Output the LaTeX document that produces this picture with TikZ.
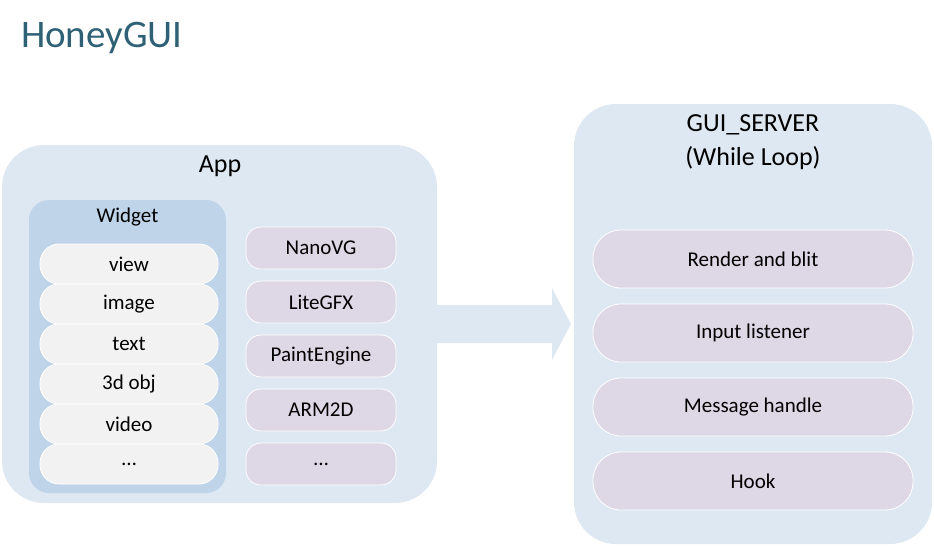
\documentclass[tikz,border=0pt]{standalone}
\usepackage{fontspec}
\setmainfont{Carlito}
\usetikzlibrary{positioning,calc}
\definecolor{titleblue}{HTML}{2F6176}
\definecolor{panelblue}{HTML}{DEE8F2}
\definecolor{widgetblue}{HTML}{BFD4E8}
\definecolor{itemgray}{HTML}{F2F2F2}
\definecolor{itempurple}{HTML}{DED7E6}

\begin{document}
\begin{tikzpicture}[x=1pt,y=1pt]
    \tikzstyle{every node}=[inner sep=0,outer sep=0,draw=none]
    \tikzstyle{panel}=[fill=panelblue,rounded corners=42]
    \tikzstyle{group}=[fill=widgetblue,rounded corners=20]
    \tikzstyle{label}=[font=\fontsize{26}{30}\selectfont]
    \tikzstyle{small}=[font=\fontsize{21}{25}\selectfont]
    \tikzstyle{widget}=[small,fill=itemgray,draw=white,line width=0.8,rounded corners=19,minimum width=178,minimum height=40]
    \tikzstyle{engine}=[small,fill=itempurple,draw=white,line width=0.8,rounded corners=15,minimum width=150,minimum height=42]
    \tikzstyle{task}=[small,fill=itempurple,draw=white,line width=0.8,rounded corners=28,minimum width=320,minimum height=58]
    {
        \useasboundingbox (0,0) rectangle (934,-546);

        \node[anchor=base west,text=titleblue,font=\fontsize{39}{44}\selectfont] (title) at (21,-47) {HoneyGUI};

        % App
        \node[panel,minimum width=435,minimum height=358] (app) at (219.5,-324) {};
        \node[label] (applabel) at (220,-166) {App};

        \node[group,minimum width=197,minimum height=293] (widgets) at (127.5,-346.5) {};
        \node[small] (widgetlabel) at (127.5,-217) {Widget};
        \foreach \name [count=\i from 0] in {view,image,text,3d obj,video,\ldots} {
            \node[widget] (w\i) at (129,-264-40*\i) {\name};
        }

        \foreach \name [count=\i from 0] in {NanoVG,LiteGFX,PaintEngine,ARM2D,\ldots} {
            \node[engine] (e\i) at (321,-248-54*\i) {\name};
        }

        % GUI server
        \node[panel,minimum width=358,minimum height=440] (server) at (753,-324) {};
        \node[label] (serverlabel) at (753,-125) {GUI\_SERVER};
        \node[label,below=11 of serverlabel] (looplabel) {(While Loop)};
        \foreach \name [count=\i from 0] in {Render and blit,Input listener,Message handle,Hook} {
            \node[task] (t\i) at (753,-259-74*\i) {\name};
        }

        % block arrow
        \fill[panelblue] ($(app.east)+(-1,19)$) -- ($(server.west)+(-22,19)$)
            -- ($(server.west)+(-22,36)$) -- ($(server.west)+(-3,0)$)
            -- ($(server.west)+(-22,-36)$) -- ($(server.west)+(-22,-19)$)
            -- ($(app.east)+(-1,-19)$) -- cycle;
    }
\end{tikzpicture}
\end{document}
